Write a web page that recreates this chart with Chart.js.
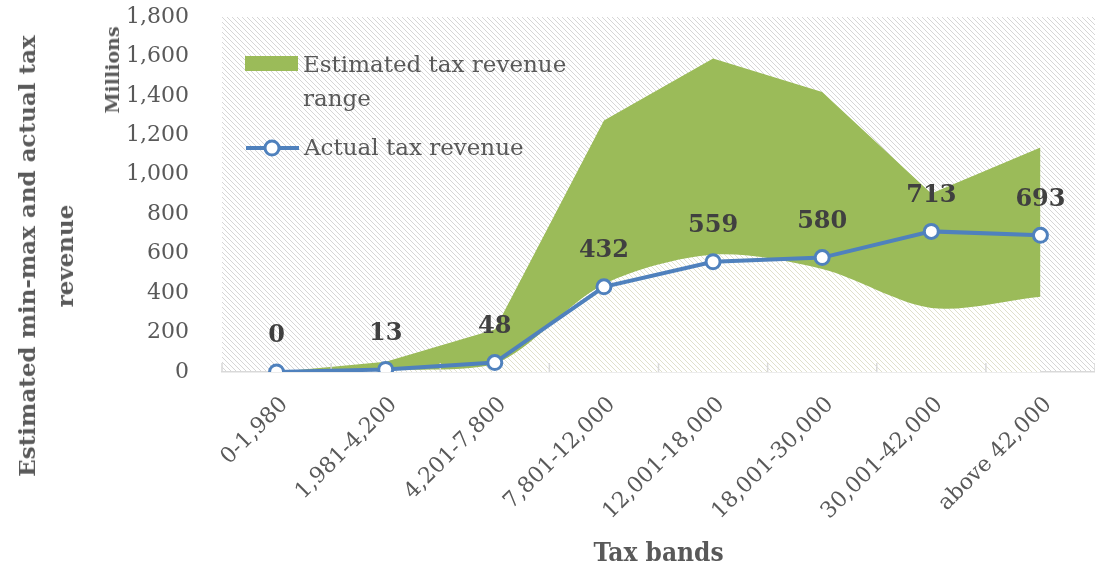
<!DOCTYPE html>
<html lang="en">
<head>
    <meta charset="UTF-8">
    <title>Estimated and actual tax revenue by tax band</title>
    <script src="https://cdn.jsdelivr.net/npm/chart.js"></script>
    <style>
        html, body {
            margin: 0;
            overflow: hidden;
            background: #ffffff;
        }
        .wrap {
            position: relative;
            width: 1095px;
            height: 576px;
            overflow: hidden;
        }
        .ytitle, .units {
            position: absolute;
            font-family: "DejaVu Serif", serif;
            font-weight: bold;
            color: #595959;
            white-space: nowrap;
            text-align: center;
            transform: translate(-50%, -50%) rotate(-90deg);
        }
        .ytitle {
            left: 46px;
            top: 256px;
            font-size: 23px;
            line-height: 38px;
        }
        .units {
            left: 112px;
            top: 70px;
            font-size: 19px;
        }
        .legend {
            position: absolute;
            left: 245px;
            top: 48px;
            font-family: "DejaVu Serif", serif;
            font-size: 23px;
            color: #595959;
        }
        .legend .row {
            display: flex;
            align-items: flex-start;
        }
        .legend .swatch {
            width: 53px;
            height: 15px;
            margin-top: 8px;
            margin-right: 5px;
            background: #9bbb59;
        }
        .legend .txt {
            line-height: 34px;
            margin-top: -1px;
        }
        .legend svg {
            margin-right: 4px;
            margin-top: 4px;
        }
    </style>
</head>
<body>
<div class="wrap">
    <canvas id="taxChart"></canvas>
    <div class="ytitle">Estimated min-max and actual tax<br>revenue</div>
    <div class="units">Millions</div>
    <div class="legend">
        <div class="row">
            <div class="swatch"></div>
            <div class="txt">Estimated tax revenue<br>range</div>
        </div>
        <div class="row" style="margin-top: 16px;">
            <svg width="55" height="26">
                <line x1="1" y1="13" x2="54" y2="13" stroke="#4f81bd" stroke-width="4"/>
                <circle cx="27" cy="13" r="7" fill="#ffffff" stroke="#4f81bd" stroke-width="3"/>
            </svg>
            <div class="txt">Actual tax revenue</div>
        </div>
    </div>
</div>

<script>
    const taxBands = ['0-1,980', '1,981-4,200', '4,201-7,800', '7,801-12,000',
        '12,001-18,000', '18,001-30,000', '30,001-42,000', 'above 42,000'];
    const estimatedMin = [0, 10, 40, 445, 595, 522, 325, 382];
    const estimatedMax = [0, 52, 215, 1275, 1590, 1420, 905, 1138];
    const actualRevenue = [0, 13, 48, 432, 559, 580, 713, 693];
    const yTicks = [0, 200, 400, 600, 800, 1000, 1200, 1400, 1600, 1800];

    const serif = '"DejaVu Serif", serif';
    const grey = '#595959';

    // diagonal hatch tile, lines running top-left to bottom-right
    function hatch(bg, fg, size) {
        const c = document.createElement('canvas');
        c.width = size;
        c.height = size;
        const g = c.getContext('2d');
        g.fillStyle = bg;
        g.fillRect(0, 0, size, size);
        g.strokeStyle = fg;
        g.lineWidth = 1;
        for (const k of [-size, 0, size]) {
            g.beginPath();
            g.moveTo(k, 0);
            g.lineTo(k + size, size);
            g.stroke();
        }
        return g.createPattern(c, 'repeat');
    }

    const ctx = document.getElementById('taxChart').getContext('2d');
    const plotHatch = hatch('#ffffff', '#d6d6d6', 5);
    const lowHatch = hatch('#ffffff', '#e0e0cc', 5);

    const plotBackground = {
        id: 'plotBackground',
        beforeDraw(chart) {
            const a = chart.chartArea;
            const c = chart.ctx;
            c.save();
            c.fillStyle = plotHatch;
            c.fillRect(a.left, a.top, a.right - a.left, a.bottom - a.top);
            c.restore();
        },
        beforeDatasetsDraw(chart) {
            // short marks between categories, standing on the axis line
            const x = chart.scales.x;
            const c = chart.ctx;
            const n = taxBands.length;
            c.save();
            c.strokeStyle = '#d9d9d9';
            c.lineWidth = 1.5;
            for (let i = 0; i <= n; i++) {
                let px;
                if (i === 0) px = chart.chartArea.left;
                else if (i === n) px = chart.chartArea.right;
                else px = (x.getPixelForTick(i - 1) + x.getPixelForTick(i)) / 2;
                c.beginPath();
                c.moveTo(px, x.top);
                c.lineTo(px, x.top - 9);
                c.stroke();
            }
            c.restore();
        }
    };

    const valueLabels = {
        id: 'valueLabels',
        afterDatasetsDraw(chart) {
            const meta = chart.getDatasetMeta(2);
            const c = chart.ctx;
            c.save();
            c.font = 'bold 24px ' + serif;
            c.fillStyle = '#404040';
            c.textAlign = 'center';
            c.textBaseline = 'middle';
            meta.data.forEach((pt, i) => {
                c.fillText(String(actualRevenue[i]), pt.x, pt.y - 36);
            });
            c.restore();
        }
    };

    new Chart(ctx, {
        type: 'line',
        data: {
            labels: taxBands,
            datasets: [{
                label: 'Estimated minimum',
                data: estimatedMin,
                order: 2,
                borderWidth: 0,
                borderColor: 'rgba(0,0,0,0)',
                backgroundColor: lowHatch,
                pointRadius: 0,
                tension: 0.3,
                fill: 'origin'
            }, {
                label: 'Estimated tax revenue range',
                data: estimatedMax,
                order: 1,
                borderWidth: 0,
                borderColor: 'rgba(0,0,0,0)',
                backgroundColor: '#9bbb59',
                pointRadius: 0,
                fill: '-1'
            }, {
                label: 'Actual tax revenue',
                data: actualRevenue,
                order: 0,
                borderColor: '#4f81bd',
                borderWidth: 4,
                pointRadius: 7,
                pointBorderWidth: 3,
                pointBackgroundColor: '#ffffff',
                pointBorderColor: '#4f81bd',
                fill: false,
                tension: 0
            }]
        },
        options: {
            responsive: true,
            maintainAspectRatio: false,
            animation: false,
            layout: {
                autoPadding: false,
                padding: { top: 17, right: 0, left: 0, bottom: 0 }
            },
            plugins: {
                legend: { display: false },
                tooltip: { enabled: false },
                filler: { drawTime: 'beforeDatasetsDraw' }
            },
            scales: {
                x: {
                    offset: true,
                    grid: { display: false },
                    border: { color: '#d9d9d9', width: 1.5 },
                    ticks: {
                        color: grey,
                        font: { family: serif, size: 22 },
                        minRotation: 45,
                        maxRotation: 45,
                        padding: 12,
                        labelOffset: 8
                    },
                    title: {
                        display: true,
                        text: 'Tax bands',
                        color: grey,
                        font: { family: '"DejaVu Serif Condensed", "DejaVu Serif", serif', size: 26, weight: 'bold' },
                        padding: { top: 0, bottom: 6 }
                    },
                    afterFit(scale) {
                        scale.height = 204;
                        scale.paddingLeft = 0;
                        scale.paddingRight = 0;
                    }
                },
                y: {
                    min: 0,
                    max: 1800,
                    afterBuildTicks(scale) {
                        scale.ticks = yTicks.map(v => ({ value: v }));
                    },
                    grid: { display: false },
                    border: { display: false },
                    ticks: {
                        color: grey,
                        font: { family: serif, size: 22 },
                        padding: 25,
                        callback: v => v.toLocaleString('en-US')
                    },
                    afterFit(scale) {
                        scale.width = 222;
                        scale.paddingTop = 0;
                        scale.paddingBottom = 0;
                    }
                }
            }
        },
        plugins: [plotBackground, valueLabels]
    });
</script>
</body>
</html>
